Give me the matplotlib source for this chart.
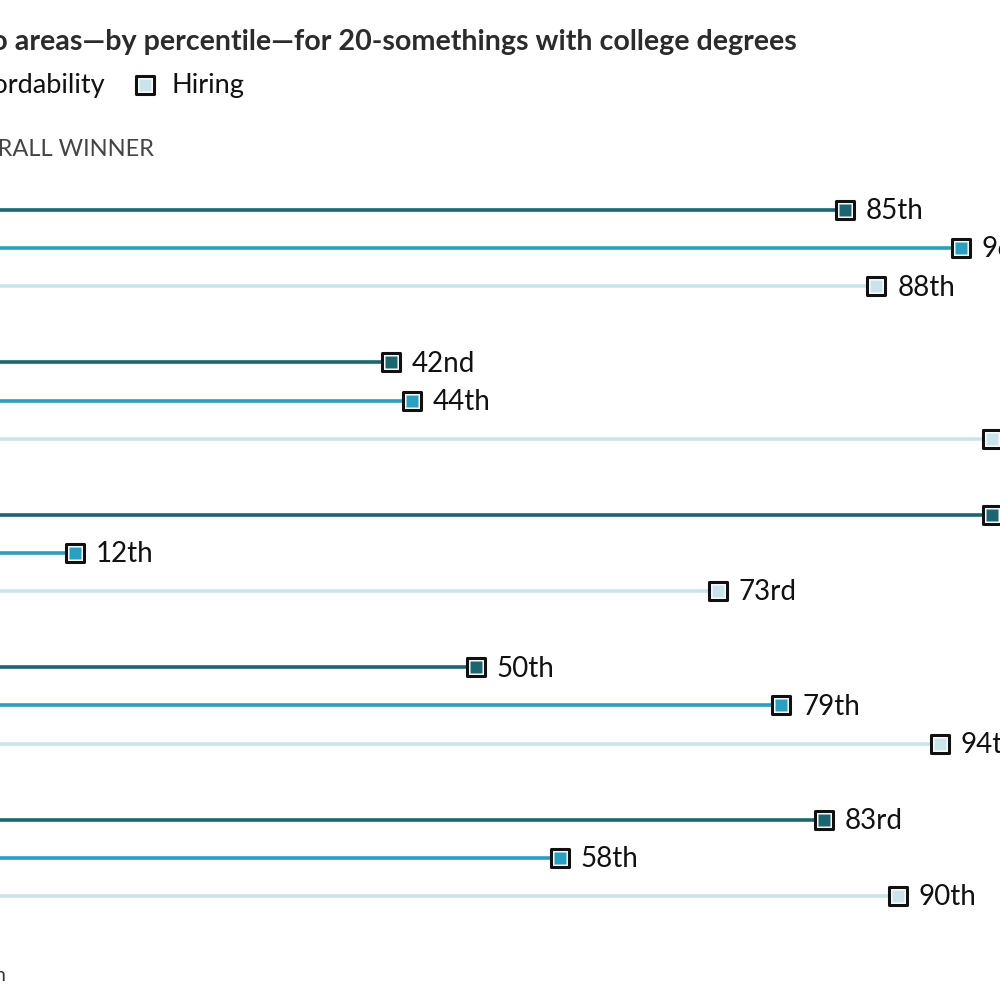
import matplotlib.pyplot as plt
from matplotlib.markers import MarkerStyle

plt.rcParams['font.family'] = ['Lato', 'DejaVu Sans']

# Percentile scores per metro area (groups of three series)
series = ["Jobs", "Affordability", "Hiring"]
colors = ["#1b6670", "#2a9fbf", "#cbe4ec"]
dark_vals = [85, 42, 99, 50, 83]
mid_vals = [96, 44, 12, 79, 58]
light_vals = [88, 99, 73, 94, 90]
values = [dark_vals, mid_vals, light_vals]


def ordinal(n):
    if 10 <= n % 100 <= 20:
        suf = "th"
    else:
        suf = {1: "st", 2: "nd", 3: "rd"}.get(n % 10, "th")
    return f"{n}{suf}"


fig = plt.figure(figsize=(10, 10), dpi=100)
ax = fig.add_axes([-0.052, 0.0, 1.055, 1.0])
ax.set_xlim(0, 100)
ax.set_ylim(20.73, -5.51)
ax.axis('off')

outer = MarkerStyle('s', joinstyle='round')
for g in range(len(dark_vals)):
    for i, (vals, col) in enumerate(zip(values, colors)):
        y = 4 * g + i
        v = vals[g]
        ax.plot([0, v], [y, y], color=col, lw=2.6, solid_capstyle='butt', zorder=1)
        ax.plot(v, y, marker=outer, ms=13.6, mfc='white', mec='#111111', mew=2.2, zorder=3)
        ax.plot(v, y, marker='s', ms=9.2, mfc=col, mec='none', zorder=4)
        ax.annotate(ordinal(v), (v, y), xytext=(15, -1), textcoords='offset points',
                    ha='left', va='center', fontsize=20, color='#111111', annotation_clip=False)

# Title (left part falls outside the crop)
fig.text(0.797, 0.958, "Ranking of metro areas\u2014by percentile\u2014for 20-somethings with college degrees",
         ha='right', va='center', fontsize=20.6, fontweight='bold', color='#2b2b2b')

# Legend row
fig.text(0.106, 0.914, "Affordability", ha='right', va='center', fontsize=19.5, color='#111111')
ax.plot(0.145, 0.915, transform=fig.transFigure, marker=outer, ms=13.6, mfc='white',
        mec='#111111', mew=2.2, clip_on=False)
ax.plot(0.145, 0.915, transform=fig.transFigure, marker='s', ms=9.2, mfc=colors[2],
        mec='none', clip_on=False)
fig.text(0.172, 0.914, "Hiring", ha='left', va='center', fontsize=19.5, color='#111111')

fig.text(0.154, 0.850, "OVERALL WINNER", ha='right', va='center', fontsize=17, color='#444444')

fig.text(0.006, 0.025, "Source: Lightcast; Zillow; WSJ calculation", ha='right', va='center',
         fontsize=14, color='#333333')

fig.savefig("out.png", dpi=100)
